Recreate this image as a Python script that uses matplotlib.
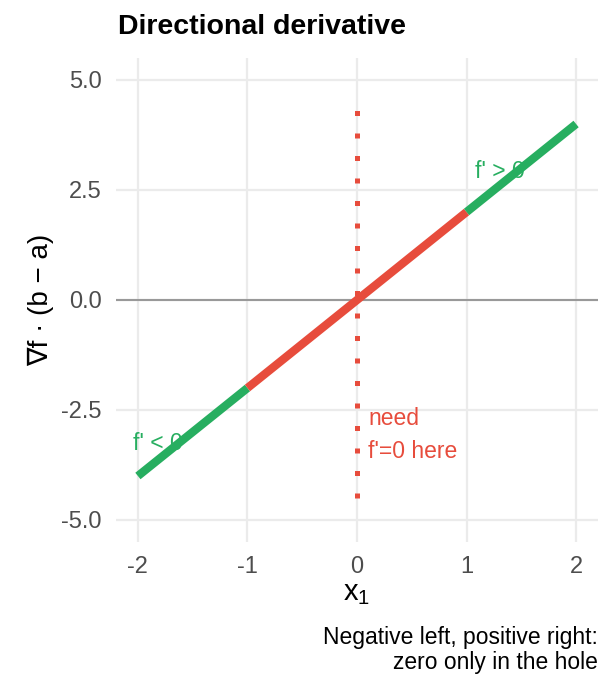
import matplotlib
matplotlib.use("Agg")
import matplotlib.pyplot as plt
import numpy as np

plt.rcParams['font.family'] = ['Liberation Sans', 'DejaVu Sans']
plt.rcParams['mathtext.fontset'] = 'custom'
plt.rcParams['mathtext.rm'] = 'Liberation Sans'
plt.rcParams['mathtext.it'] = 'Liberation Sans'

# data
seg_x_start = [-2, -1, 1]
seg_x_end = [-1, 1, 2]
seg_colors = ['#27AE60', '#E74C3C', '#27AE60']
slope = 2
vline_x = 0
vline_y = [-4.5, 4.4]
x_ticks = [-2, -1, 0, 1, 2]
y_ticks = [-5.0, -2.5, 0.0, 2.5, 5.0]
labels = [("f' > 0", 1.3, 2.93, '#27AE60', 'center'),
          ("f' < 0", -1.82, -3.25, '#27AE60', 'center'),
          ("need\nf'=0 here", 0.1, -3.07, '#E74C3C', 'left')]

fig = plt.figure(figsize=(6.14, 6.91), dpi=100)
ax = fig.add_axes([116/614, 1-542/691, (598-116)/614, (542-58)/691])

for v in x_ticks:
    ax.axvline(v, color='#EBEBEB', lw=1.6, zorder=0)
for v in y_ticks:
    ax.axhline(v, color='#EBEBEB', lw=1.6, zorder=0)

ax.axhline(0, color='#999999', lw=1.5, zorder=1)

for xs, xe, c in zip(seg_x_start, seg_x_end, seg_colors):
    xx = np.array([xs, xe])
    ax.plot(xx, slope * xx, color=c, lw=6.0, solid_capstyle='butt', zorder=3)

ax.plot([vline_x, vline_x], vline_y, color='#E74C3C', lw=3.6,
        dashes=(1, 3.5), dash_capstyle='butt', zorder=2)

for t, x, y, c, ha in labels:
    ax.text(x, y, t, color=c, fontsize=16.5, ha=ha, va='center', linespacing=1.6, zorder=4)

ax.set_xlim(-2.2, 2.2)
ax.set_ylim(-5.5, 5.5)
ax.set_xticks(x_ticks)
ax.set_xticklabels([str(v) for v in x_ticks])
ax.set_yticks(y_ticks)
ax.set_yticklabels([f"{v:.1f}" for v in y_ticks])
ax.tick_params(axis='y', length=0, labelsize=17, labelcolor='#4D4D4D', pad=10.5)
ax.tick_params(axis='x', length=0, labelsize=17, labelcolor='#4D4D4D', pad=10)
for s in ax.spines.values():
    s.set_visible(False)

ax.set_xlabel(r"$\mathregular{x_1}$", fontsize=21, labelpad=1)
ax.set_ylabel("∇f · (b − a)", fontsize=20, labelpad=5)

fig.text(118/614, 1-27/691, "Directional derivative", fontsize=20.5,
         fontweight='bold', ha='left', va='center')
fig.text(598/614, 1-650/691, "Negative left, positive right:\nzero only in the hole",
         fontsize=16.5, ha='right', va='center', linespacing=1.1)

fig.savefig("out.png", dpi=100)
